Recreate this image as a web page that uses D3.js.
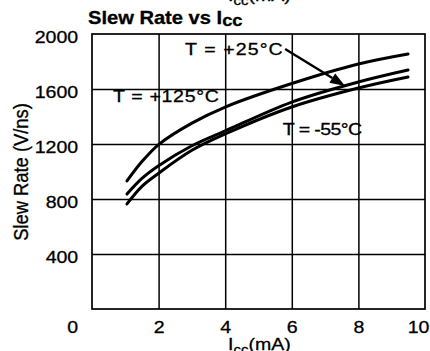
<!DOCTYPE html>
<html>
<head>
<meta charset="utf-8">
<script src="https://cdn.jsdelivr.net/npm/d3@7"></script>
<style>
  html, body { margin: 0; padding: 0; background: #fff; overflow: hidden; }
  svg { display: block; }
  text { font-family: "Liberation Sans", Arial, Helvetica, sans-serif; fill: #000; stroke: #000; stroke-width: 0.3px; }
</style>
</head>
<body>
<svg id="chart" width="430" height="351"></svg>
<script>
// Supply current (mA) at which each curve was sampled
const iccValues = [1.05, 1.5, 2, 3, 4, 6, 8, 9.49];
// Slew rate (V/ns) per temperature
const slewHot  = [931, 1072, 1196, 1352, 1469, 1640, 1782, 1855];  // T = +125°C
const slewRoom = [836,  950, 1042, 1187, 1295, 1505, 1651, 1738];  // T = +25°C
const slewCold = [764,  892,  987, 1154, 1273, 1469, 1607, 1687];  // T = -55°C
const seriesLabels = ["T = +125°C", "T = +25°C", "T = -55°C"];
const xTicks = [2, 4, 6, 8, 10];
const yTicks = [0, 400, 800, 1200, 1600, 2000];

const plot = { left: 92, right: 425, top: 34, bottom: 309 };
const STRETCH = 1.15;   // the lettering of this sheet is set slightly wide

const x = d3.scaleLinear().domain([0, 10]).range([plot.left, plot.right]);
const y = d3.scaleLinear().domain([0, 2000]).range([plot.bottom, plot.top]);
const svg = d3.select("#chart");

// ---- grid ----
svg.append("g")
  .attr("transform", `translate(0,${plot.bottom})`)
  .call(d3.axisBottom(x).tickValues(xTicks.filter(t => t < 10))
        .tickSize(-(plot.bottom - plot.top)).tickFormat(""))
  .call(g => g.select(".domain").remove())
  .selectAll("line").attr("stroke", "#000").attr("stroke-width", 1.5);

svg.append("g")
  .attr("transform", `translate(${plot.left},0)`)
  .call(d3.axisLeft(y).tickValues(yTicks.filter(t => t > 0 && t < 2000))
        .tickSize(-(plot.right - plot.left)).tickFormat(""))
  .call(g => g.select(".domain").remove())
  .selectAll("line").attr("stroke", "#000").attr("stroke-width", 1.5);

svg.append("rect")
  .attr("x", plot.left).attr("y", plot.top)
  .attr("width", plot.right - plot.left).attr("height", plot.bottom - plot.top)
  .attr("fill", "none").attr("stroke", "#000").attr("stroke-width", 1.7);

// ---- tick labels ----
const yAxis = svg.append("g")
  .attr("transform", `translate(${plot.left},0)`)
  .call(d3.axisLeft(y).tickValues(yTicks).tickSize(0).tickPadding(12).tickFormat(d3.format("d")));
yAxis.select(".domain").remove();
yAxis.selectAll("text")
  .attr("font-size", 17).attr("font-family", null).attr("fill", "#000")
  .attr("dy", d => d === 0 ? "1.36em" : "0.5em")
  .attr("transform", `scale(${STRETCH},1)`);

const xAxis = svg.append("g")
  .attr("transform", `translate(0,${plot.bottom})`)
  .call(d3.axisBottom(x).tickValues(xTicks).tickSize(0).tickPadding(12).tickFormat(d3.format("d")));
xAxis.select(".domain").remove();
xAxis.selectAll("text")
  .attr("font-size", 17).attr("font-family", null).attr("fill", "#000")
  .attr("x", d => d === 10 ? -6 : 0)
  .attr("transform", `scale(${STRETCH},1)`);

// ---- curves ----
const line = d3.line()
  .x((d, i) => x(iccValues[i]))
  .y(d => y(d))
  .curve(d3.curveCatmullRom.alpha(0.5));

svg.append("g")
  .selectAll("path")
  .data([slewHot, slewRoom, slewCold])
  .join("path")
  .attr("d", line)
  .attr("fill", "none")
  .attr("stroke", "#000")
  .attr("stroke-width", 3)
  .attr("stroke-linecap", "round");

// ---- text helper: wide-set text anchored at (px, py) ----
function wideText(px, py, size, weight) {
  return svg.append("text")
    .attr("transform", `translate(${px},${py}) scale(${STRETCH},1)`)
    .attr("font-size", size)
    .attr("font-weight", weight || "normal");
}

// Title
const title = wideText(88, 24, 17.5, "bold");
title.append("tspan").text("Slew Rate vs I");
title.append("tspan").attr("font-size", 16).attr("dy", 2).text("cc");

// Axis titles
function iccTitle(px, py) {
  const t = wideText(px, py, 17);
  t.append("tspan").text("I");
  t.append("tspan").attr("font-size", 13).attr("dy", 4).text("cc");
  t.append("tspan").attr("dy", -4).text("(mA)");
}
iccTitle(228, 349.5);
iccTitle(228, 1);

svg.append("text")
  .attr("transform", `translate(28,172) rotate(-90) scale(1.05,1.15)`)
  .attr("text-anchor", "middle")
  .attr("font-size", 17.5)
  .text("Slew Rate (V/ns)");

// Curve labels
wideText(x(0.63), y(1505), 17).text(seriesLabels[0]).attr("textLength", 92);
wideText(x(2.79), y(1850), 17).text(seriesLabels[1]).attr("textLength", 85);
wideText(x(5.73), y(1265), 17).text(seriesLabels[2]).attr("textLength", 69);

// Arrow from the +25°C label to its curve
const a0 = [x(5.8), y(1891)];
const a1 = [x(7.6), y(1622)];
const dx = a1[0] - a0[0], dy = a1[1] - a0[1];
const len = Math.hypot(dx, dy), ux = dx / len, uy = dy / len;
const headLen = 15, headW = 5.5;
const base = [a1[0] - ux * headLen, a1[1] - uy * headLen];
svg.append("line")
  .attr("x1", a0[0]).attr("y1", a0[1])
  .attr("x2", base[0]).attr("y2", base[1])
  .attr("stroke", "#000").attr("stroke-width", 2.4);
svg.append("path")
  .attr("d", `M${a1[0]},${a1[1]}L${base[0] - uy * headW},${base[1] + ux * headW}L${base[0] + uy * headW},${base[1] - ux * headW}Z`)
  .attr("fill", "#000");
</script>
</body>
</html>
